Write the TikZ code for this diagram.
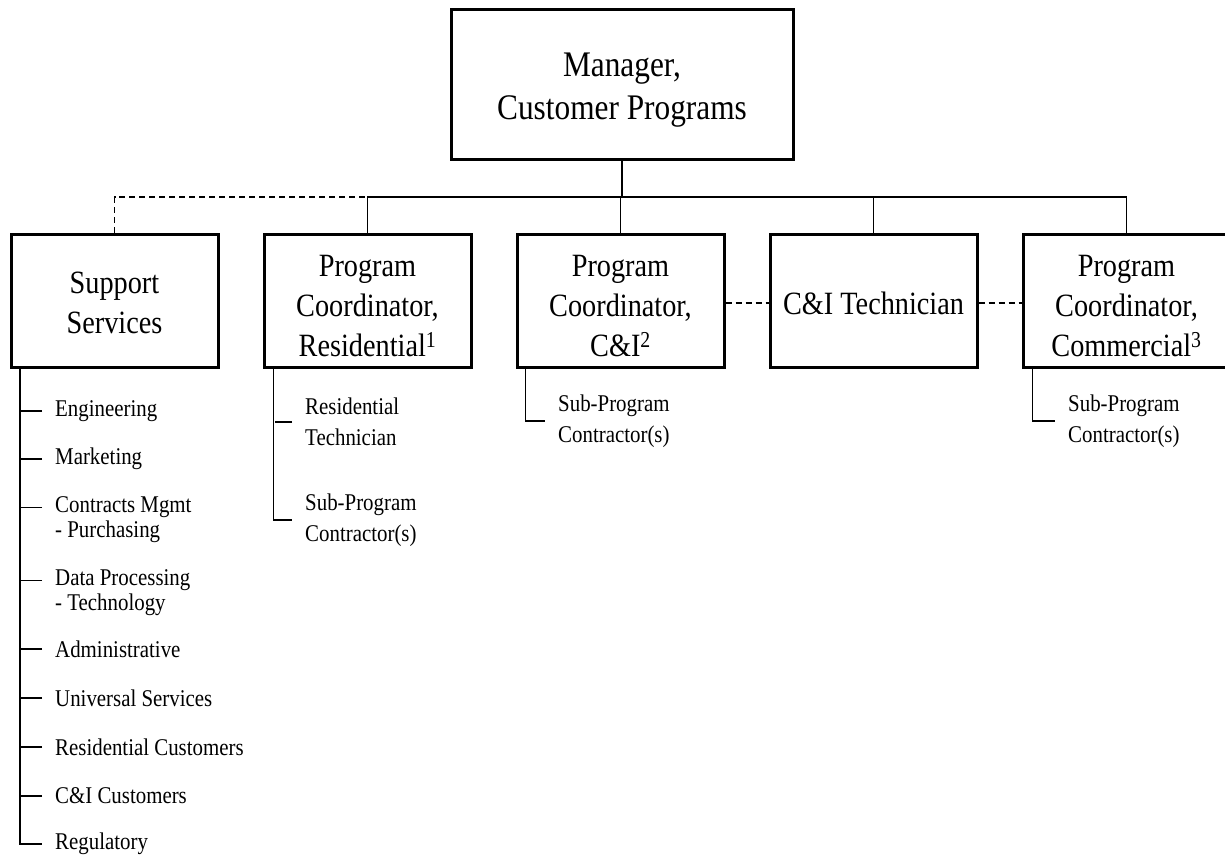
\documentclass[tikz,border=0pt]{standalone}
\usepackage{fontspec}
\setmainfont[FakeStretch=0.87]{Liberation Serif}
\newcommand{\mystrut}[1]{\rule{0pt}{#1}}
\begin{document}
\begin{tikzpicture}[x=1pt,y=-1pt,
  box/.style={draw, line width=3pt, minimum width=207pt, minimum height=133pt, inner sep=0pt, align=center, font=\fontsize{32.5}{40}\selectfont},
  mainbox/.style={draw, line width=3pt, minimum width=342pt, minimum height=150pt, inner sep=0pt, align=center, font=\fontsize{36}{43}\selectfont},
  conn/.style={line width=1.3pt},
  dconn/.style={line width=1.3pt, dash pattern=on 6pt off 4pt},
  spine/.style={line width=2pt},
  item/.style={anchor=west, inner sep=0pt, align=left, font=\fontsize{24}{25}\selectfont},
  subitem/.style={anchor=west, inner sep=0pt, align=left, font=\fontsize{24}{31}\selectfont}]
\useasboundingbox (0,0) rectangle (1225,857);

% boxes
\node[mainbox] (main) at (622,84) {\mystrut{36pt}Manager,\\Customer Programs};
\node[box] (sup)  at (114.5,300.5) {\mystrut{26pt}Support\\Services};
\node[box] (res)  at (367.5,300.5) {\mystrut{31.5pt}Program\\Coordinator,\\Residential\textsuperscript{1}};
\node[box] (cni)  at (620.5,300.5) {\mystrut{31.5pt}Program\\Coordinator,\\C\&I\textsuperscript{2}};
\node[box] (tech) at (873.5,300.5) {\mystrut{28pt}C\&I Technician};
\node[box] (comm) at (1126.5,300.5) {\mystrut{31.5pt}Program\\Coordinator,\\Commercial\textsuperscript{3}};

\coordinate (bus) at (0,197);

% bus connectors
\draw[conn] (main.south) -- (main.south |- bus);
\draw[conn] (res.north) -- (res.north |- bus) -- (comm.north |- bus) -- (comm.north);
\draw[conn] (cni.north) -- (cni.north |- bus);
\draw[conn] (tech.north) -- (tech.north |- bus);
\draw[dconn] (sup.north) -- (sup.north |- bus) -- (res.north |- bus);

% dashed links between boxes
\draw[dconn] ([yshift=-2.5pt]cni.east) -- ([yshift=-2.5pt]tech.west);
\draw[dconn] ([yshift=-2.5pt]tech.east) -- ([yshift=-2.5pt]comm.west);

% support services list
\node[item] (eng) at (55,411) {Engineering};
\node[item] (mkt) at (55,459) {Marketing};
\node[item] (cm)  at (55,520) {Contracts Mgmt\\- Purchasing};
\node[item] (dp)  at (55,593) {Data Processing\\- Technology};
\node[item] (adm) at (55,649) {Administrative};
\node[item] (uni) at (55,698) {Universal Services};
\node[item] (rcu) at (55,747) {Residential Customers};
\node[item] (ccu) at (55,796) {C\&I Customers};
\node[item] (reg) at (55,844) {Regulatory};

\draw[spine] ([xshift=10pt]sup.south west) |- ([xshift=-13pt]reg.west);
\foreach \n in {eng,mkt,adm,uni,rcu,ccu}
  \draw[conn] ([xshift=-13pt]\n.west) -- ++(-22,0);
\foreach \n in {cm,dp}
  \draw[conn] ([xshift=-13pt,yshift=12.5pt]\n.west) -- ++(-22,0);

% residential branch
\node[subitem] (rt) at (305,422) {Residential\\Technician};
\node[subitem] (rs) at (305,520) {Sub-Program\\Contractor(s)};
\draw[conn] ([xshift=11pt]res.south west) |- ([xshift=-13pt]rs.west);
\draw[conn] ([xshift=-13pt]rt.west) -- ++(-17,0);

% C&I branch
\node[subitem] (cs) at (558,421) {Sub-Program\\Contractor(s)};
\draw[conn] ([xshift=10pt]cni.south west) |- ([xshift=-13pt]cs.west);

% commercial branch
\node[subitem] (ms) at (1068,421) {Sub-Program\\Contractor(s)};
\draw[conn] ([xshift=11pt]comm.south west) |- ([xshift=-13pt]ms.west);
\end{tikzpicture}
\end{document}
